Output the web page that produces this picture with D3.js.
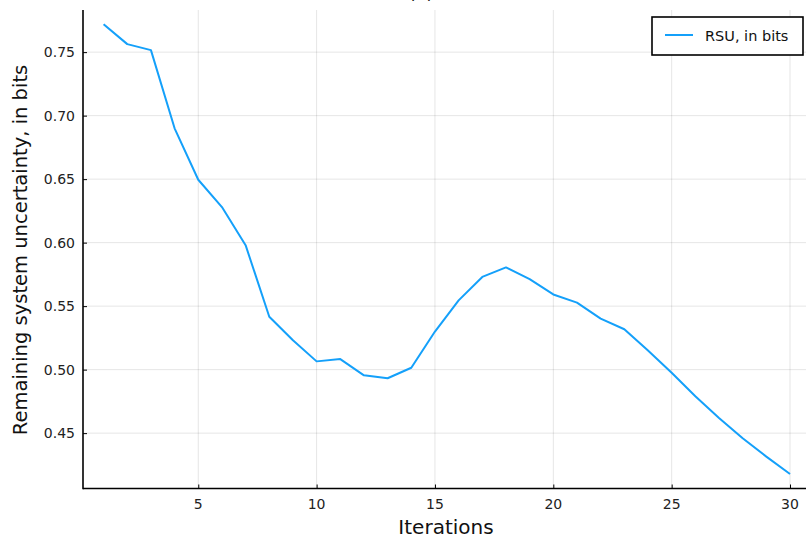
<!DOCTYPE html>
<html><head><meta charset="utf-8">
<script src="https://cdn.jsdelivr.net/npm/d3@7"></script>
<style>body{margin:0;background:#fff}svg{display:block}</style>
</head><body>
<svg id="c" width="806" height="542"></svg>
<script>
const iterations = d3.range(1, 31);
const rsu = [0.772,0.7563,0.7516,0.690,0.6495,0.628,0.598,0.5416,0.5231,0.5065,
             0.5083,0.4955,0.4932,0.5015,0.5300,0.5545,0.5730,0.5805,0.5712,0.5592,
             0.5528,0.5402,0.5318,0.5150,0.4975,0.4790,0.4620,0.4460,0.4315,0.4178];
const xTicks = [5,10,15,20,25,30];
const yTicks = [0.45,0.50,0.55,0.60,0.65,0.70,0.75];
const seriesName = "RSU, in bits";
const titleText = "(a)";
const xLabel = "Iterations";
const yLabel = "Remaining system uncertainty, in bits";

const svg = d3.select("#c");
const L = 83, R = 810.6, T = 12, B = 488.5;
const x = d3.scaleLinear().domain([0.13, 30.87]).range([L, R]);
const y = d3.scaleLinear().domain([0.4064, 0.7816]).range([B, T]);

// grid
svg.append("g").selectAll("line").data(xTicks).join("line")
  .attr("x1", d => x(d)).attr("x2", d => x(d)).attr("y1", T - 2).attr("y2", B)
  .attr("stroke", "#000").attr("stroke-opacity", 0.1).attr("stroke-width", 1);
svg.append("g").selectAll("line").data(yTicks).join("line")
  .attr("y1", d => y(d)).attr("y2", d => y(d)).attr("x1", L).attr("x2", 806)
  .attr("stroke", "#000").attr("stroke-opacity", 0.1).attr("stroke-width", 1);

// axes (inward ticks)
const xAxis = d3.axisTop(x).tickValues(xTicks).tickSize(4).tickFormat("");
const gx = svg.append("g").attr("transform", `translate(0,${B})`).call(xAxis);
gx.select(".domain").remove();
gx.selectAll("line").attr("stroke", "#000").attr("stroke-width", 1);
const yAxis = d3.axisRight(y).tickValues(yTicks).tickSize(4).tickFormat("");
const gy = svg.append("g").attr("transform", `translate(${L},0)`).call(yAxis);
gy.select(".domain").remove();
gy.selectAll("line").attr("stroke", "#000").attr("stroke-width", 1);

svg.append("line").attr("x1", L).attr("x2", 806).attr("y1", B).attr("y2", B)
  .attr("stroke", "#000").attr("stroke-width", 1.6);
svg.append("line").attr("x1", L).attr("x2", L).attr("y1", T - 2).attr("y2", B + 0.8)
  .attr("stroke", "#000").attr("stroke-width", 1.6);

// tick labels
const tickFont = "DejaVu Sans";
svg.append("g").selectAll("text").data(xTicks).join("text")
  .attr("x", d => x(d)).attr("y", B + 20)
  .attr("text-anchor", "middle").attr("font-family", tickFont).attr("font-size", 14)
  .attr("fill", "#222").text(d => d);
svg.append("g").selectAll("text").data(yTicks).join("text")
  .attr("x", L - 8).attr("y", d => y(d) + 5)
  .attr("text-anchor", "end").attr("font-family", tickFont).attr("font-size", 14)
  .attr("fill", "#222").text(d => d.toFixed(2));

// line
const line = d3.line().x((d, i) => x(iterations[i])).y(d => y(d));
svg.append("path").datum(rsu).attr("d", line).attr("fill", "none")
  .attr("stroke", "#14a0fa").attr("stroke-width", 2).attr("stroke-linejoin", "round");

// labels
svg.append("text").attr("x", 446).attr("y", 534).attr("text-anchor", "middle")
  .attr("font-family", "DejaVu Sans").attr("font-size", 20).attr("fill", "#111").text(xLabel);
svg.append("text").attr("transform", "translate(27,250) rotate(-90)").attr("text-anchor", "middle")
  .attr("font-family", "DejaVu Sans").attr("font-size", 19.5).attr("fill", "#111").text(yLabel);
svg.append("text").attr("x", 421).attr("y", -1).attr("text-anchor", "middle")
  .attr("font-family", "DejaVu Sans").attr("font-size", 18).attr("fill", "#111").text(titleText);

// legend
const lg = svg.append("g");
lg.append("rect").attr("x", 652).attr("y", 17).attr("width", 151).attr("height", 38)
  .attr("fill", "#fff").attr("stroke", "#000").attr("stroke-width", 1.6);
lg.append("line").attr("x1", 665).attr("x2", 693).attr("y1", 35).attr("y2", 35)
  .attr("stroke", "#14a0fa").attr("stroke-width", 2);
lg.append("text").attr("x", 705).attr("y", 40.5).attr("font-family", "DejaVu Sans")
  .attr("font-size", 14.5).attr("fill", "#111").text(seriesName);
</script>
</body></html>
